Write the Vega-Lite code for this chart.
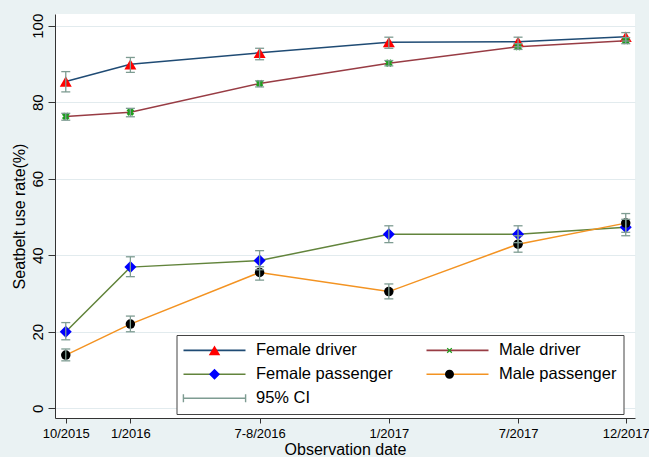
{
  "$schema": "https://vega.github.io/schema/vega-lite/v6.json",
  "width": 580,
  "height": 404,
  "autosize": "none",
  "padding": {"left": 55, "top": 14, "right": 14, "bottom": 39},
  "background": "#eaf2f3",
  "config": {
    "view": {"fill": "#ffffff", "stroke": null},
    "font": "Liberation Sans",
    "axis": {"labelFont": "Liberation Sans", "titleFont": "Liberation Sans", "labelColor": "#000000", "titleColor": "#000000", "titleFontWeight": "normal", "domainColor": "#333333", "tickColor": "#333333", "domainWidth": 1, "tickWidth": 1}
  },
  "data": {"values": [
    {"series": "Female driver", "m": 0, "rate": 85.4, "lo": 82.7, "hi": 88.0},
    {"series": "Female driver", "m": 3, "rate": 89.9, "lo": 87.8, "hi": 91.7},
    {"series": "Female driver", "m": 9, "rate": 92.9, "lo": 91.1, "hi": 94.1},
    {"series": "Female driver", "m": 15, "rate": 95.7, "lo": 94.1, "hi": 97.0},
    {"series": "Female driver", "m": 21, "rate": 95.8, "lo": 94.5, "hi": 97.0},
    {"series": "Female driver", "m": 26, "rate": 97.1, "lo": 96.0, "hi": 98.2},
    {"series": "Male driver", "m": 0, "rate": 76.3, "lo": 75.3, "hi": 77.1},
    {"series": "Male driver", "m": 3, "rate": 77.4, "lo": 76.2, "hi": 78.4},
    {"series": "Male driver", "m": 9, "rate": 84.9, "lo": 84.0, "hi": 85.6},
    {"series": "Male driver", "m": 15, "rate": 90.2, "lo": 89.5, "hi": 90.9},
    {"series": "Male driver", "m": 21, "rate": 94.5, "lo": 93.8, "hi": 95.3},
    {"series": "Male driver", "m": 26, "rate": 96.1, "lo": 95.3, "hi": 96.9},
    {"series": "Female passenger", "m": 0, "rate": 20.0, "lo": 17.9, "hi": 22.4},
    {"series": "Female passenger", "m": 3, "rate": 36.9, "lo": 34.4, "hi": 39.6},
    {"series": "Female passenger", "m": 9, "rate": 38.6, "lo": 36.2, "hi": 41.2},
    {"series": "Female passenger", "m": 15, "rate": 45.5, "lo": 43.3, "hi": 47.7},
    {"series": "Female passenger", "m": 21, "rate": 45.5, "lo": 43.3, "hi": 47.7},
    {"series": "Female passenger", "m": 26, "rate": 47.3, "lo": 45.1, "hi": 49.4},
    {"series": "Male passenger", "m": 0, "rate": 13.9, "lo": 12.4, "hi": 15.5},
    {"series": "Male passenger", "m": 3, "rate": 22.0, "lo": 20.0, "hi": 24.1},
    {"series": "Male passenger", "m": 9, "rate": 35.5, "lo": 33.5, "hi": 37.0},
    {"series": "Male passenger", "m": 15, "rate": 30.5, "lo": 28.6, "hi": 32.5},
    {"series": "Male passenger", "m": 21, "rate": 42.9, "lo": 40.8, "hi": 45.1},
    {"series": "Male passenger", "m": 26, "rate": 48.4, "lo": 46.0, "hi": 50.9}
  ]},
  "resolve": {"legend": {"fill": "independent", "shape": "independent"}},
  "layer": [
    {
      "mark": {"type": "line", "strokeWidth": 1.5},
      "encoding": {
        "x": {"field": "m", "type": "quantitative", "title": "Observation date",
          "scale": {"domain": [-0.5, 26.43], "nice": false, "zero": false},
          "axis": {"values": [0, 3, 9, 15, 21, 26], "grid": false, "labelFlush": false, "labelOverlap": false,
            "labelExpr": "datum.value == 0 ? '10/2015' : datum.value == 3 ? '1/2016' : datum.value == 9 ? '7-8/2016' : datum.value == 15 ? '1/2017' : datum.value == 21 ? '7/2017' : '12/2017'",
            "tickSize": 5, "labelFontSize": 13, "labelPadding": 4, "titleFontSize": 16, "titlePadding": 1}},
        "y": {"field": "rate", "type": "quantitative", "title": "Seatbelt use rate(%)",
          "scale": {"domain": [-2.54, 103.06], "nice": false, "zero": false},
          "axis": {"values": [0, 20, 40, 60, 80, 100], "grid": true, "gridColor": "#e2ebee", "gridWidth": 1,
            "labelAngle": 270, "labelAlign": "center", "labelBaseline": "alphabetic", "labelFontSize": 15,
            "tickSize": 7, "labelPadding": 6, "titleFontSize": 16, "titlePadding": 3}},
        "stroke": {"field": "series", "type": "nominal",
          "scale": {"domain": ["Female driver", "Male driver", "Female passenger", "Male passenger", "95% CI"],
                    "range": ["#1f4b74", "#983c44", "#62843c", "#f39322", "#7e9c92"]},
          "legend": {"orient": "none", "legendX": 121.5, "legendY": 321, "title": null, "columns": 2, "direction": "horizontal",
            "symbolType": "M-6.2,0H6.2", "symbolSize": 100, "symbolStrokeWidth": 1.6, "symbolOffset": 22.75,
            "labelOffset": 33.25, "padding": 7, "rowPadding": 7, "columnPadding": 29,
            "labelFont": "Liberation Sans", "labelFontSize": 16.5, "labelColor": "#000000", "labelLimit": 400,
            "strokeColor": "#444444", "fillColor": "#ffffff", "gridAlign": "each"}}
      }
    },
    {
      "transform": [{"filter": {"field": "series", "equal": "Female driver"}}],
      "mark": {"type": "point", "shape": "triangle-up", "filled": true, "fill": "#ff0000", "size": 144, "opacity": 1, "strokeWidth": 0},
      "encoding": {"x": {"field": "m", "type": "quantitative", "title": "Observation date"}, "y": {"field": "rate", "type": "quantitative", "title": "Seatbelt use rate(%)"}}
    },
    {
      "transform": [{"filter": {"field": "series", "equal": "Male driver"}}],
      "mark": {"type": "point", "shape": "cross", "angle": 45, "filled": true, "fill": "#1e9e1e", "size": 60, "opacity": 1, "strokeWidth": 0},
      "encoding": {"x": {"field": "m", "type": "quantitative", "title": "Observation date"}, "y": {"field": "rate", "type": "quantitative", "title": "Seatbelt use rate(%)"}}
    },
    {
      "transform": [{"filter": {"field": "series", "equal": "Female passenger"}}],
      "mark": {"type": "point", "shape": "diamond", "filled": true, "fill": "#0000ff", "size": 144, "opacity": 1, "strokeWidth": 0},
      "encoding": {"x": {"field": "m", "type": "quantitative", "title": "Observation date"}, "y": {"field": "rate", "type": "quantitative", "title": "Seatbelt use rate(%)"}}
    },
    {
      "transform": [{"filter": {"field": "series", "equal": "Male passenger"}}],
      "mark": {"type": "point", "shape": "circle", "filled": true, "fill": "#000000", "size": 90, "opacity": 1, "strokeWidth": 0},
      "encoding": {"x": {"field": "m", "type": "quantitative", "title": "Observation date"}, "y": {"field": "rate", "type": "quantitative", "title": "Seatbelt use rate(%)"}}
    },
    {
      "mark": {"type": "rule", "color": "#7e9c92", "strokeWidth": 1.3},
      "encoding": {"x": {"field": "m", "type": "quantitative", "title": "Observation date"}, "y": {"field": "lo", "type": "quantitative", "title": "Seatbelt use rate(%)"}, "y2": {"field": "hi"}}
    },
    {
      "mark": {"type": "tick", "orient": "horizontal", "size": 9, "thickness": 1.3, "color": "#7e9c92", "opacity": 1},
      "encoding": {"x": {"field": "m", "type": "quantitative", "title": "Observation date"}, "y": {"field": "lo", "type": "quantitative", "title": "Seatbelt use rate(%)"}}
    },
    {
      "mark": {"type": "tick", "orient": "horizontal", "size": 9, "thickness": 1.3, "color": "#7e9c92", "opacity": 1},
      "encoding": {"x": {"field": "m", "type": "quantitative", "title": "Observation date"}, "y": {"field": "hi", "type": "quantitative", "title": "Seatbelt use rate(%)"}}
    },
    {
      "mark": {"type": "point", "filled": true, "opacity": 0, "strokeWidth": 0, "size": 10},
      "encoding": {
        "x": {"field": "m", "type": "quantitative", "title": "Observation date"},
        "y": {"field": "rate", "type": "quantitative", "title": "Seatbelt use rate(%)"},
        "fill": {"field": "series", "type": "nominal",
          "scale": {"domain": ["Female driver", "Male driver", "Female passenger", "Male passenger", "95% CI"],
                    "range": ["#ff0000", "#1e9e1e", "#0000ff", "#000000", "#7e9c92"]},
          "legend": {"orient": "none", "legendX": 121.5, "legendY": 321, "title": null, "columns": 2, "direction": "horizontal",
            "symbolSize": 100, "symbolStrokeWidth": 0, "symbolOpacity": 1, "symbolOffset": 22.75,
            "labelOffset": 33.25, "padding": 7, "rowPadding": 7, "columnPadding": 161,
            "labelExpr": "' '",
            "labelFont": "Liberation Sans", "labelFontSize": 16.5, "labelOpacity": 0, "labelLimit": 400,
            "strokeColor": "transparent", "fillColor": "transparent", "gridAlign": "each"}},
        "shape": {"field": "series", "type": "nominal",
          "scale": {"domain": ["Female driver", "Male driver", "Female passenger", "Male passenger", "95% CI"],
                    "range": [
                      "M-6.36,0H6.36M0,-1L1.15,0.95L-1.15,0.95Z",
                      "M-6.36,0H6.36M-0.55,-0.37L-0.37,-0.55L0.55,0.37L0.37,0.55ZM0.55,-0.37L-0.37,0.55L-0.55,0.37L0.37,-0.55Z",
                      "M-6.36,0H6.36M0,-1.1L1.1,0L0,1.1L-1.1,0Z",
                      "M-6.36,0H6.36M0.9,0C0.9,0.497 0.497,0.9 0,0.9C-0.497,0.9 -0.9,0.497 -0.9,0C-0.9,-0.497 -0.497,-0.9 0,-0.9C0.497,-0.9 0.9,-0.497 0.9,0Z",
                      "M-6.36,-0.8H-6.08V0.8H-6.36ZM6.08,-0.8H6.36V0.8H6.08Z"
                    ]},
          "legend": {"orient": "none", "legendX": 121.5, "legendY": 321, "title": null, "columns": 2, "direction": "horizontal",
            "symbolSize": 100, "symbolStrokeWidth": 0, "symbolOpacity": 1, "symbolOffset": 22.75,
            "labelOffset": 33.25, "padding": 7, "rowPadding": 7, "columnPadding": 161,
            "labelExpr": "' '",
            "labelFont": "Liberation Sans", "labelFontSize": 16.5, "labelOpacity": 0, "labelLimit": 400,
            "strokeColor": "transparent", "fillColor": "transparent", "gridAlign": "each"}}
      }
    }
  ]
}
